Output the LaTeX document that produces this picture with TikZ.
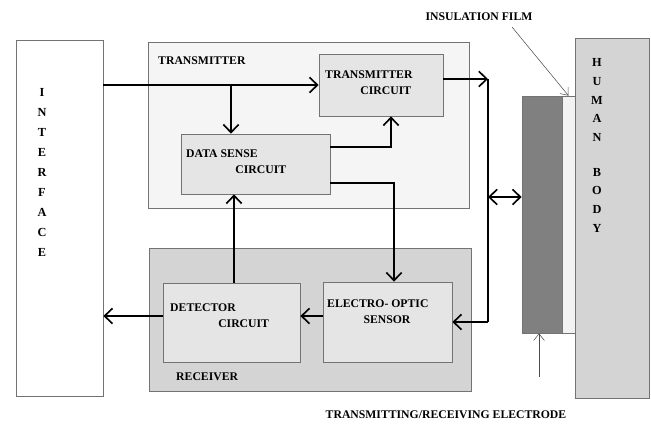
\documentclass[tikz,border=0pt]{standalone}
\usepackage{fontspec}
\setmainfont{Liberation Serif}
\usetikzlibrary{arrows.meta,positioning,calc,fit}

\begin{document}
\begin{tikzpicture}[
  x=0.03cm,y=-0.03cm,
  font=\bfseries\fontsize{10}{13.5}\selectfont,
  >={Straight Barb[length=2.4mm,width=4.6mm]},
  blk/.style={draw=black!55, line width=0.6pt, inner sep=0pt},
  lab/.style={align=left, inner sep=0pt, text=black},
  vlab/.style={align=center, inner sep=0pt, text=black},
  flow/.style={->, line width=1.4pt},
  bus/.style={line width=1.4pt},
  thinflow/.style={-{Straight Barb[length=2mm,width=3.2mm]}, line width=0.45pt, draw=black!70},
]
\useasboundingbox (0,0) rectangle (651,434);

%% ---------- INTERFACE ----------
\node[blk, fill=white, fit={(16,40)(103,396)}] (iface) {};
\node[vlab, font=\bfseries\fontsize{10.5}{17.1}\selectfont] (ifacet) at (42,172.5)
  {I\\N\\T\\E\\R\\F\\A\\C\\E};

%% ---------- TRANSMITTER ----------
\node[blk, fill=black!4, fit={(148,42)(469,208)}] (tx) {};
\node[lab, anchor=west] (txlab) at (158,61) {TRANSMITTER};
\node[blk, fill=black!10, fit={(319,54)(443,116)}] (txc) {};
\node[lab, anchor=west] (txct) at (325,82.5) {TRANSMITTER\\\hspace*{30pt}CIRCUIT};
\node[blk, fill=black!10, fit={(181,134)(330,194)}] (dsc) {};
\node[lab, anchor=west] (dsct) at (186,161.5) {DATA SENSE\\\hspace*{42pt}CIRCUIT};

%% ---------- RECEIVER ----------
\node[blk, fill=black!17, fit={(149,248)(471,391)}] (rx) {};
\node[lab, anchor=west] (rxlab) at (176,377) {RECEIVER};
\node[blk, fill=black!10, fit={(163,283)(300,362)}] (det) {};
\node[lab, anchor=west] (dett) at (170,315.5) {DETECTOR\\\hspace*{41pt}CIRCUIT};
\node[blk, fill=black!10, fit={(323,282)(452,362)}] (eos) {};
\node[lab, anchor=west] (eost) at (327,312) {ELECTRO- OPTIC\\\hspace*{31pt}SENSOR};

%% ---------- ELECTRODE + BODY ----------
\node[blk, fill=black!50, fit={(522,96)(562,333)}] (elec) {};
\node[blk, fill=black!5, fit={(562,96)(575,333)}] (film) {};
\node[blk, fill=black!17, fit={(575,38)(649,398)}] (body) {};
\node[vlab, font=\bfseries\fontsize{10.5}{16}\selectfont] (bodyt) at (597,145.5)
  {H\\U\\M\\A\\N\\[13.5pt]B\\O\\D\\Y};

%% ---------- CONNECTORS ----------
\coordinate (split) at (231,85);
\draw[flow] (iface.east |- split) -- (split -| txc.west);
\draw[flow] (split) -- (split |- dsc.north);
\draw[flow] ($(dsc.east)+(0,-17)$) -| ($(txc.south)+(10,0)$);
\draw[flow] ($(dsc.east)+(0,19)$) -| ($(eos.north)+(6.5,0)$);
\coordinate (bustop) at (488,79);
\coordinate (busmid) at (488,197);
\coordinate (busbot) at (488,322);
\draw[flow] (txc.east |- bustop) -- (bustop);
\draw[bus] (bustop) -- (busbot);
\draw[flow] (busbot) -- (eos.east);
\draw[flow, <->] (busmid) -- (busmid -| elec.west);
\draw[flow] ($(det.north)+(2.5,0)$) -- ($(dsc.south)+(-21.5,0)$);
\draw[flow] ($(eos.west)+(0,-6)$) -- ($(det.east)+(0,-6.5)$);
\coordinate (detout) at ($(det.west)+(0,-6.5)$);
\draw[flow] (detout) -- (detout -| iface.east);

%% ---------- CALLOUTS ----------
\node[vlab] (filmlab) at (479,17) {INSULATION FILM};
\coordinate (filmtail) at (512,27);
\draw[thinflow] (filmtail) -- (film.north);
\coordinate (elecfoot) at (539,377);
\draw[thinflow] (elecfoot) -- (elecfoot |- elec.south);
\node[vlab] (eleclab) at (446,415) {TRANSMITTING/RECEIVING ELECTRODE};
\end{tikzpicture}
\end{document}
